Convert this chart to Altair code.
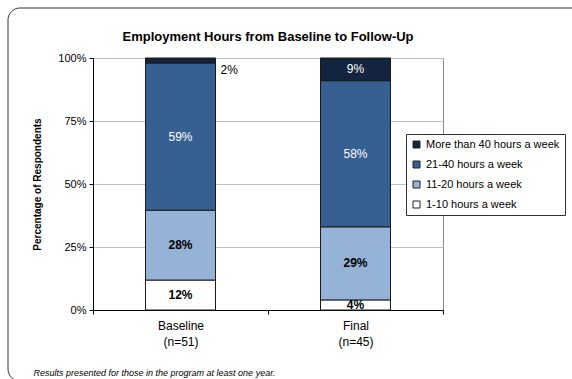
import altair as alt
import pandas as pd

# Survey results: share of respondents by weekly employment hours
periods = ["Baseline", "Final"]
sample_sizes = [51, 45]
categories = [
    "1-10 hours a week",
    "11-20 hours a week",
    "21-40 hours a week",
    "More than 40 hours a week",
]
baseline_pct = [12, 28, 59, 2]
final_pct = [4, 29, 58, 9]
colors = ["#FFFFFF", "#95B3D7", "#376092", "#14243F"]
y_ticks = [0, 0.25, 0.5, 0.75, 1.0]

rows = []
for period, n, vals in zip(periods, sample_sizes, [baseline_pct, final_pct]):
    for rank, (cat, v) in enumerate(zip(categories, vals)):
        rows.append({"period": f"{period}|(n={n})", "category": cat, "rank": rank, "value": v})
df = pd.DataFrame(rows)
period_order = [f"{p}|(n={n})" for p, n in zip(periods, sample_sizes)]

FONT = "Liberation Sans"
dark_cats = categories[2:]
light_cats = categories[:2]

base = (
    alt.Chart(df)
    .transform_joinaggregate(total="sum(value)", groupby=["period"])
    .transform_calculate(share="datum.value / datum.total")
    .transform_stack(
        stack="share",
        groupby=["period"],
        as_=["y0", "y1"],
        sort=[alt.SortField("rank", order="ascending")],
    )
    .transform_calculate(
        mid="(datum.y0 + datum.y1) / 2",
        label="format(datum.value, 'd') + '%'",
    )
)

x_enc = alt.X(
    "period:N",
    sort=period_order,
    scale=alt.Scale(paddingInner=0, paddingOuter=0),
    axis=alt.Axis(
        title="Results presented for those in the program at least one year.",
        titleFont=FONT,
        titleFontSize=9,
        titleFontStyle="italic",
        titleFontWeight="normal",
        titleColor="#000000",
        titleAlign="left",
        titleBaseline="alphabetic",
        titleX=-60,
        titleY=65,
        labelExpr="datum.value ? split(datum.value, '|') : ''",
        labelAngle=0,
        labelFontSize=12,
        labelLineHeight=16,
        labelPadding=6,
        labelColor="#000000",
        tickBand="extent",
        tickSize=4,
        tickColor="#000000",
        domainColor="#000000",
        grid=False,
    ),
)

y_axis = alt.Axis(
    title="Percentage of Respondents",
    titleFont=FONT,
    titleFontSize=10,
    titleFontWeight="bold",
    titleColor="#000000",
    titleAngle=-90,
    titleAlign="center",
    titleBaseline="middle",
    titleX=-56,
    titleY=126,
    values=y_ticks,
    format=".0%",
    labelFontSize=11,
    labelColor="#000000",
    labelPadding=3,
    tickSize=4,
    tickColor="#000000",
    domainColor="#000000",
    grid=True,
    gridColor="#BFBFBF",
)
y_scale = alt.Scale(domain=[0, 1], nice=False)

bars = base.mark_bar(size=70, stroke="#1A1A1A", strokeWidth=1).encode(
    x=x_enc,
    y=alt.Y("y0:Q", scale=y_scale, axis=y_axis),
    y2="y1:Q",
    color=alt.Color(
        "category:N",
        scale=alt.Scale(domain=categories[::-1], range=colors[::-1]),
        legend=alt.Legend(
            title=None,
            orient="none",
            legendX=313,
            legendY=76,
            strokeColor="#333333",
            fillColor="#FFFFFF",
            padding=5,
            symbolType="square",
            symbolSize=49,
            symbolStrokeColor="#222222",
            symbolStrokeWidth=1,
            labelFont=FONT,
            labelFontSize=11,
            labelColor="#000000",
            labelOffset=4,
            rowPadding=8,
        ),
    ),
)

text_y = alt.Y("mid:Q", scale=y_scale, axis=y_axis)

labels_dark = (
    base.transform_filter(alt.FieldOneOfPredicate(field="category", oneOf=dark_cats))
    .transform_filter("datum.share >= 0.05")
    .mark_text(color="#FFFFFF", fontSize=12, font=FONT)
    .encode(x=x_enc, y=text_y, text="label:N")
)

labels_light = (
    base.transform_filter(alt.FieldOneOfPredicate(field="category", oneOf=light_cats))
    .mark_text(color="#000000", fontSize=12, fontWeight="bold", font=FONT)
    .encode(x=x_enc, y=text_y, text="label:N")
)

labels_outside = (
    base.transform_filter(alt.FieldOneOfPredicate(field="category", oneOf=dark_cats))
    .transform_filter("datum.share < 0.05")
    .mark_text(color="#000000", fontSize=12, font=FONT, align="left", dx=40, dy=10)
    .encode(x=x_enc, y=text_y, text="label:N")
)

# Rounded outer frame around the whole figure
frame = (
    alt.Chart(alt.Data(values=[{}]))
    .mark_rect(cornerRadius=12, fill="transparent", stroke="#333333", strokeWidth=1)
    .encode(
        x=alt.value(-85),
        x2=alt.value(507),
        y=alt.value(-50),
        y2=alt.value(323),
    )
)

chart = (
    alt.layer(frame, bars, labels_dark, labels_light, labels_outside)
    .properties(
        width=350,
        height=252,
        autosize="none",
        padding={"left": 93, "top": 58, "right": 129, "bottom": 69},
        title=alt.TitleParams(
            text="Employment Hours from Baseline to Follow-Up",
            font=FONT,
            fontSize=13,
            fontWeight="bold",
            color="#000000",
            anchor="middle",
            dy=51,
            offset=15,
        ),
    )
    .configure(font=FONT, background="#FFFFFF")
    .configure_view(stroke="#8C8C8C", strokeWidth=1)
    .configure_axis(labelFont=FONT, titleFont=FONT)
)

chart.save("out.html", embed_options={"renderer": "svg", "actions": False})
